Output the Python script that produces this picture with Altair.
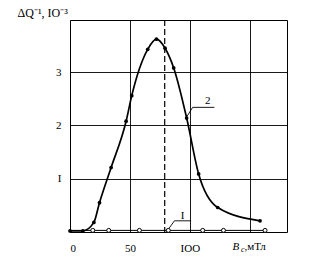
import altair as alt
import pandas as pd

# Curve 2 (filled points)
b2 = [0, 10.7, 19.9, 24.6, 34.3, 46.8, 51.5, 64.8, 72.1, 79.3, 86.5, 97.3, 107.3, 123.2, 158.5]
q2 = [0.02, 0.02, 0.18, 0.55, 1.21, 2.08, 2.56, 3.43, 3.62, 3.45, 3.08, 2.14, 1.09, 0.46, 0.21]
# Curve I (open circles)
b1_line = [0, 162.7]
q1_line = [0.03, 0.03]
b1 = [19, 32.3, 57.9, 82, 110.7, 128, 162.7]
q1 = [0.03, 0.03, 0.03, 0.03, 0.03, 0.03, 0.03]
# dashed vertical
b_dash = 79
# tick labels
x_tick_vals = [0, 50, 100, 150]
x_tick_text = ["0", "50", "IOO", ""]
y_tick_vals = [1, 2, 3]
y_tick_text = ["I", "2", "3"]
# curve labels and leaders
lead2_b = [97.3, 102.3, 120.4]
lead2_q = [2.16, 2.34, 2.34]
lead1_b = [82.3, 87.1, 101]
lead1_q = [0.06, 0.21, 0.21]
lab_text = ["2", "I"]
lab_b = [114.8, 94]
lab_q = [2.41, 0.25]

FONT = "Liberation Serif"

def expr(vals, texts):
    e = "''"
    for v, t in zip(vals, texts):
        e = f"datum.value == {v} ? '{t}' : ({e})"
    return e

xs = alt.Scale(domain=[0, 181], nice=False, zero=False)
ys = alt.Scale(domain=[0, 3.98], nice=False, zero=False)

df2 = pd.DataFrame({"B": b2, "Q": q2})
df1l = pd.DataFrame({"B": b1_line, "Q": q1_line})
df1 = pd.DataFrame({"B": b1, "Q": q1})
dfl2 = pd.DataFrame({"B": lead2_b, "Q": lead2_q, "o": range(3)})
dfl1 = pd.DataFrame({"B": lead1_b, "Q": lead1_q, "o": range(3)})
dflab = pd.DataFrame({"t": lab_text, "B": lab_b, "Q": lab_q})
dfd = pd.DataFrame({"B": [b_dash]})

xaxis = alt.Axis(values=x_tick_vals, labelExpr=expr(x_tick_vals, x_tick_text), title=None,
                 grid=True, ticks=False, domain=False, labelPadding=10,
                 labelFont=FONT, labelFontSize=11, labelColor="black",
                 gridColor="black", gridOpacity=1, gridWidth=0.9)
yaxis = alt.Axis(values=y_tick_vals, labelExpr=expr(y_tick_vals, y_tick_text),
                 title="ΔQ⁻¹, IO⁻³", titleAngle=0, titleX=-53, titleY=-4,
                 titleAlign="left", titleBaseline="alphabetic", titleFont=FONT,
                 titleFontSize=12, titleFontWeight="normal", titleColor="black",
                 grid=True, ticks=False, domain=False, labelPadding=9,
                 labelFont=FONT, labelFontSize=11, labelColor="black",
                 gridColor="black", gridOpacity=1, gridWidth=0.9)

base_x = alt.X("B:Q", scale=xs, axis=xaxis)
base_y = alt.Y("Q:Q", scale=ys, axis=yaxis)

line2 = alt.Chart(df2).mark_line(color="black", strokeWidth=1.7, interpolate="monotone").encode(
    x=base_x, y=base_y)
pts2 = alt.Chart(df2).mark_point(filled=True, color="black", size=14, opacity=1).encode(
    x="B:Q", y="Q:Q")
line1 = alt.Chart(df1l).mark_line(color="black", strokeWidth=1).encode(x="B:Q", y="Q:Q")
pts1 = alt.Chart(df1).mark_point(filled=True, fill="white", stroke="black", strokeWidth=1,
                                 size=16, opacity=1).encode(x="B:Q", y="Q:Q")
dash = alt.Chart(dfd).mark_rule(color="black", strokeWidth=1.2, strokeDash=[6, 3]).encode(x="B:Q")
lead2 = alt.Chart(dfl2).mark_line(color="black", strokeWidth=0.9).encode(x="B:Q", y="Q:Q", order="o:O")
lead1 = alt.Chart(dfl1).mark_line(color="black", strokeWidth=0.9).encode(x="B:Q", y="Q:Q", order="o:O")
labs = alt.Chart(dflab).mark_text(font=FONT, fontSize=11, color="black", baseline="alphabetic").encode(
    x="B:Q", y="Q:Q", text="t:N")

# x-axis name "B_c ,мТл"
xname_text = ["B", "c", ",мТл"]
xname_b = [135.5, 142.6, 145.5]
xname_q = [-0.33, -0.37, -0.33]
xname = pd.DataFrame({"t": xname_text, "B": xname_b, "Q": xname_q})
xn_it = alt.Chart(xname.iloc[[0]]).mark_text(
    font=FONT, fontSize=11, fontStyle="italic", color="black", align="left", baseline="alphabetic").encode(
    x="B:Q", y="Q:Q", text="t:N")
xn_sub = alt.Chart(xname.iloc[[1]]).mark_text(
    font=FONT, fontSize=8, fontStyle="italic", color="black", align="left", baseline="alphabetic").encode(
    x="B:Q", y="Q:Q", text="t:N")
xn_rest = alt.Chart(xname.iloc[[2]]).mark_text(
    font=FONT, fontSize=11, color="black", align="left", baseline="alphabetic").encode(
    x="B:Q", y="Q:Q", text="t:N")

chart = alt.layer(line2, line1, dash, pts2, pts1, lead2, lead1, labs, xn_it, xn_sub, xn_rest).properties(
    width=217, height=212,
    autosize=alt.AutoSizeParams(type="none"),
    padding={"left": 70, "top": 20, "right": 25, "bottom": 27},
    background="white",
).configure_view(stroke="black", strokeWidth=1)

chart.save("out.html", embed_options={"renderer": "svg", "actions": False})
